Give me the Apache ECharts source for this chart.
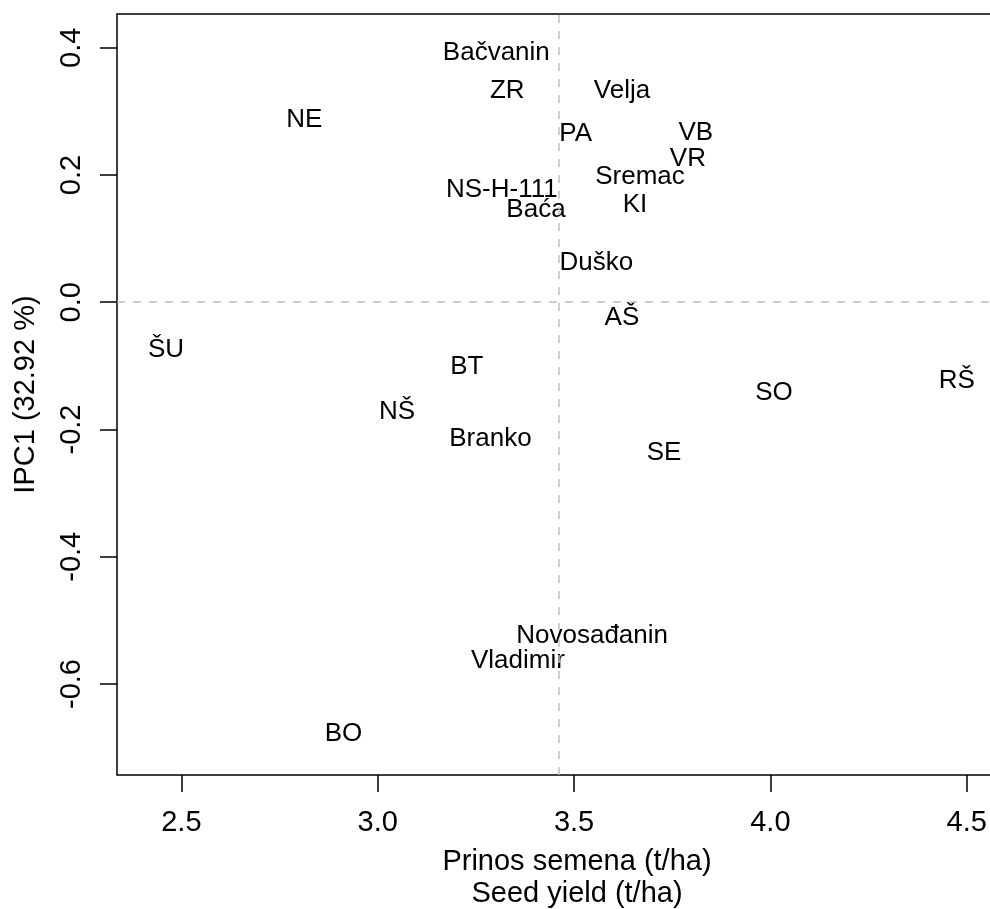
<!DOCTYPE html>
<html>
<head>
<meta charset="utf-8">
<script src="https://cdn.jsdelivr.net/npm/echarts@6.0.0/dist/echarts.min.js"></script>
<style>
  html, body { margin: 0; padding: 0; background: #fff; }
  #chart { width: 990px; height: 909px; }
</style>
</head>
<body>
<div id="chart"></div>
<script>
// Genotype labels
const genotypes = ['Bačvanin','ZR','Velja','NE','PA','VB','VR','Sremac','NS-H-111','KI','Baća','Duško','AŠ','ŠU','BT','RŠ','SO','NŠ','Branko','SE','Novosađanin','Vladimir','BO'];
// Seed yield (t/ha)
const seedYield = [3.302,3.330,3.622,2.813,3.504,3.810,3.790,3.668,3.316,3.655,3.403,3.557,3.622,2.461,3.227,4.475,4.009,3.049,3.287,3.729,3.546,3.357,2.913];
// IPC1 scores
const ipc1 = [0.392,0.333,0.332,0.286,0.264,0.267,0.226,0.197,0.176,0.153,0.146,0.062,-0.024,-0.075,-0.101,-0.123,-0.142,-0.173,-0.215,-0.237,-0.525,-0.564,-0.679];
// Reference lines
const meanYield = 3.456;
const ipcZero = 0;
// Tick values
const xTicks = [2.5, 3.0, 3.5, 4.0, 4.5];
const yTicks = [-0.6, -0.4, -0.2, 0.0, 0.2, 0.4];

const FONT = "'Liberation Sans', Arial, Helvetica, sans-serif";
const points = genotypes.map((g, i) => [seedYield[i], ipc1[i], g]);

const chart = echarts.init(document.getElementById('chart'), null, { renderer: 'canvas' });
chart.setOption({
  animation: false,
  backgroundColor: '#fff',
  grid: {
    left: 117, top: 14, right: -47, bottom: 134,
    outerBoundsMode: 'none',
    containLabel: false,
    show: true, borderColor: '#000', borderWidth: 1.5, backgroundColor: 'transparent'
  },
  xAxis: {
    type: 'value',
    min: 2.336, max: 4.679,
    name: 'Prinos semena (t/ha)\nSeed yield (t/ha)',
    nameLocation: 'middle',
    nameGap: 71,
    nameTextStyle: { fontFamily: FONT, fontSize: 29, color: '#000', lineHeight: 32 },
    axisLine: { show: false, onZero: false },
    axisTick: { show: true, length: 17, customValues: xTicks, lineStyle: { color: '#000', width: 1.5 } },
    axisLabel: { customValues: xTicks, margin: 33, fontFamily: FONT, fontSize: 29, color: '#000',
      formatter: v => Number(v).toFixed(1) },
    splitLine: { show: false }
  },
  yAxis: {
    type: 'value',
    min: -0.743, max: 0.453,
    name: 'IPC1 (32.92 %)',
    nameLocation: 'middle',
    nameGap: 77,
    nameTextStyle: { fontFamily: FONT, fontSize: 29, color: '#000' },
    axisLine: { show: false, onZero: false },
    axisTick: { show: true, length: 17, customValues: yTicks, lineStyle: { color: '#000', width: 1.5 } },
    axisLabel: { customValues: yTicks, rotate: 90, margin: 31, fontFamily: FONT, fontSize: 29, color: '#000',
      formatter: v => Number(v).toFixed(1) },
    splitLine: { show: false }
  },
  series: [{
    type: 'scatter',
    data: points,
    symbolSize: 1,
    itemStyle: { color: 'rgba(0,0,0,0)' },
    label: {
      show: true,
      position: 'inside',
      align: 'center',
      verticalAlign: 'middle',
      formatter: p => p.data[2],
      fontFamily: FONT,
      fontSize: 26,
      color: '#000',
      opacity: 1,
      textBorderWidth: 0,
      textBorderColor: 'transparent',
      textShadowBlur: 0
    },
    markLine: {
      silent: true,
      symbol: ['none', 'none'],
      label: { show: false },
      lineStyle: { color: '#bebebe', width: 1.5, type: [8, 8] },
      data: [{ xAxis: meanYield }, { yAxis: ipcZero }]
    }
  }]
});
</script>
</body>
</html>
